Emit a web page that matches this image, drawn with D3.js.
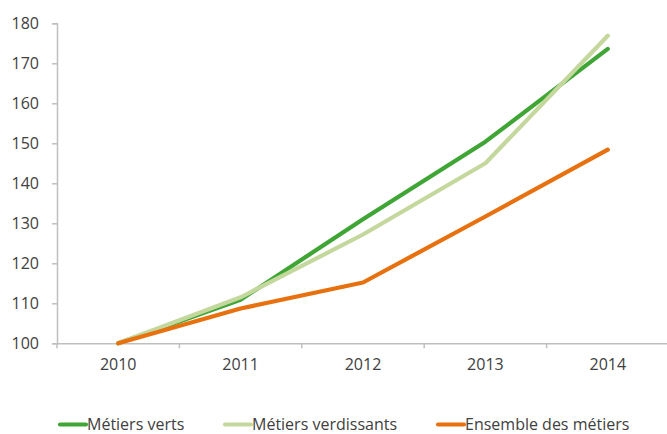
<!DOCTYPE html>
<html><head><meta charset="utf-8">
<script src="https://cdn.jsdelivr.net/npm/d3@7"></script>
<style>body{margin:0;background:#fff;} text{font-family:"Open Sans","Liberation Sans",sans-serif;}</style>
</head><body><svg id="c" width="667" height="434"></svg>
<script>
const years = ["2010","2011","2012","2013","2014"];
const seriesNames = ["Métiers verts","Métiers verdissants","Ensemble des métiers"];
const metiersVerts = [100, 110.9, 131, 150.4, 173.6];
const metiersVerdissants = [100, 111.5, 127.2, 145.0, 176.9];
const ensembleMetiers = [100, 108.7, 115.2, 131.7, 148.4];
const yTicks = [100,110,120,130,140,150,160,170,180];
const colors = ["#3fa535","#c4d89e","#e8710f"];

const svg = d3.select("#c");
const m = {l:57, t:23.3, r:669, b:343.3};
const x = d3.scaleBand().domain(years).range([m.l, m.r]);
const y = d3.scaleLinear().domain([100,180]).range([m.b, m.t]);
const grey = "#bfbfbf", txt = "#404040";

// y axis
const ya = svg.append("g").attr("transform",`translate(${m.l},0)`)
  .call(d3.axisLeft(y).tickValues(yTicks).tickSize(5).tickPadding(13).tickFormat(d3.format("d")));
ya.select(".domain").attr("stroke",grey).attr("stroke-width",1.5);
ya.selectAll(".tick line").attr("stroke",grey).attr("stroke-width",1.5);
ya.selectAll("text").attr("fill",txt).attr("font-size",16).attr("font-family","Open Sans, sans-serif");

// x axis
const xa = svg.append("g").attr("transform",`translate(0,${m.b})`)
  .call(d3.axisBottom(x).tickSize(0).tickPadding(15));
xa.select(".domain").attr("stroke",grey).attr("stroke-width",1.5);
xa.selectAll("text").attr("fill",txt).attr("font-size",16).attr("font-family","Open Sans, sans-serif");
// category boundary ticks
const bounds = years.map(d=>x(d)).concat([x(years[years.length-1])+x.bandwidth()]);
xa.selectAll(".bt").data(bounds).enter().append("line")
  .attr("x1",d=>d).attr("x2",d=>d).attr("y1",0).attr("y2",5)
  .attr("stroke",grey).attr("stroke-width",1.5);

const data = [metiersVerts, metiersVerdissants, ensembleMetiers];
const line = d3.line().x((d,i)=>x(years[i])+x.bandwidth()/2).y(d=>y(d));
[0,1,2].forEach(k=>{
  svg.append("path").datum(data[k]).attr("d",line).attr("fill","none")
    .attr("stroke",colors[k]).attr("stroke-width",4.2).attr("stroke-linecap","round").attr("stroke-linejoin","round");
});

// legend
const legX = [60,225,438];
const lg = svg.append("g");
seriesNames.forEach((n,i)=>{
  lg.append("line").attr("x1",legX[i]).attr("x2",legX[i]+26).attr("y1",424.5).attr("y2",424.5)
    .attr("stroke",colors[i]).attr("stroke-width",4.2).attr("stroke-linecap","round");
  lg.append("text").attr("x",legX[i]+27).attr("y",429.5).text(n).attr("fill",txt).attr("font-size",16);
});
</script></body></html>
